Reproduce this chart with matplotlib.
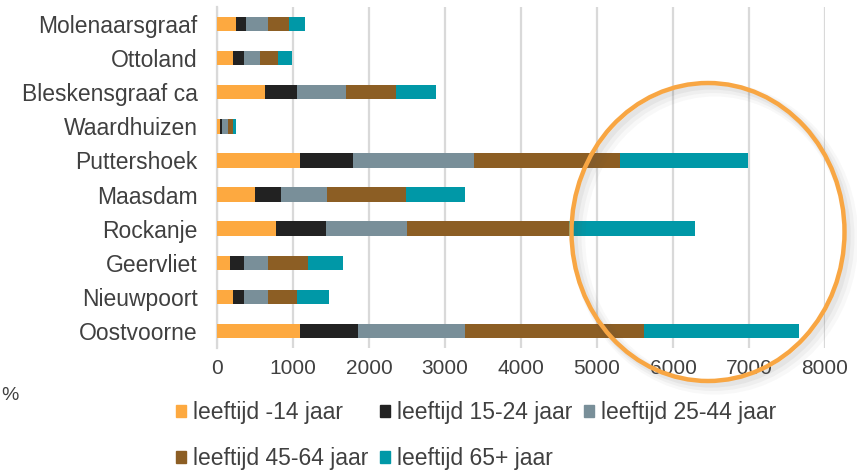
import matplotlib
matplotlib.use("Agg")
import matplotlib.pyplot as plt
from matplotlib.patches import Ellipse, Patch
import numpy as np

plt.rcParams['font.family'] = ['Liberation Sans', 'DejaVu Sans']

categories = ["Molenaarsgraaf", "Ottoland", "Bleskensgraaf ca", "Waardhuizen",
              "Puttershoek", "Maasdam", "Rockanje", "Geervliet", "Nieuwpoort", "Oostvoorne"]
series_names = ["leeftijd -14 jaar", "leeftijd 15-24 jaar", "leeftijd 25-44 jaar",
                "leeftijd 45-64 jaar", "leeftijd 65+ jaar"]
age_0_14 = [250, 215, 636, 35, 1091, 496, 779, 177, 208, 1092]
age_15_24 = [136, 140, 417, 27, 699, 348, 659, 172, 141, 763]
age_25_44 = [285, 211, 640, 83, 1587, 599, 1058, 322, 322, 1408]
age_45_64 = [280, 241, 662, 70, 1923, 1048, 2140, 526, 386, 2355]
age_65_plus = [211, 180, 527, 35, 1687, 775, 1651, 457, 421, 2040]
x_ticks = [0, 1000, 2000, 3000, 4000, 5000, 6000, 7000, 8000]

series = [age_0_14, age_15_24, age_25_44, age_45_64, age_65_plus]
colors = ["#FDA940", "#222222", "#798F99", "#8C5E24", "#0098A7"]

fig = plt.figure(figsize=(8.57, 4.71), dpi=100)
ax = fig.add_axes([217/857, 1-348/471, 608/857, 341/471])

y = np.arange(len(categories))
left = np.zeros(len(categories))
for vals, c, name in zip(series, colors, series_names):
    ax.barh(y, vals, left=left, height=0.42, color=c, label=name, zorder=3)
    left += np.array(vals)

ax.set_ylim(len(categories) - 0.5, -0.5)
ax.set_yticks(y)
ax.set_yticklabels(categories, fontsize=16.5, color="#404040")
ax.set_xlim(0, 8000)
ax.set_xticks(x_ticks)
ax.set_xticklabels([str(t) for t in x_ticks], fontsize=15, color="#404040")
ax.tick_params(length=0, pad=8)
ax.tick_params(axis='y', pad=14)
ax.xaxis.grid(True, color="#D9D9D9", linewidth=1.6, zorder=0)
for s in ["top", "right", "bottom"]:
    ax.spines[s].set_visible(False)
ax.spines["left"].set_color("#D9D9D9")
ax.spines["left"].set_linewidth(1.6)

handles = [Patch(color=c) for c in colors]
order = [0, 3, 1, 4, 2]
leg = fig.legend([handles[i] for i in order], [series_names[i] for i in order],
                 ncol=3, loc="upper left", bbox_to_anchor=(176/857, 1-401/471),
                 frameon=False, fontsize=16.5, handlelength=0.45, handleheight=0.45,
                 handletextpad=0.3, columnspacing=0.5, labelspacing=1.0,
                 borderaxespad=0, borderpad=0)
for t in leg.get_texts():
    t.set_color("#404040")

fig.text(0.002, 1-395/471, "%", fontsize=14, color="#404040", va="center", ha="left")

# highlight circle with soft shadow
cx, cy, w, h = 708/857, 1-232/471, 273/857, 298/471
for k, a in enumerate([0.07, 0.05, 0.04]):
    fig.add_artist(Ellipse((cx + 0.004 + 0.002*k, cy - 0.008 - 0.003*k), w, h,
                           transform=fig.transFigure, fill=False,
                           ec="#555555", lw=4 + 3*k, alpha=a))
fig.add_artist(Ellipse((cx, cy), w, h, transform=fig.transFigure, fill=False,
                       ec="#F8A643", lw=3.2))

fig.savefig("out.png", dpi=100)
